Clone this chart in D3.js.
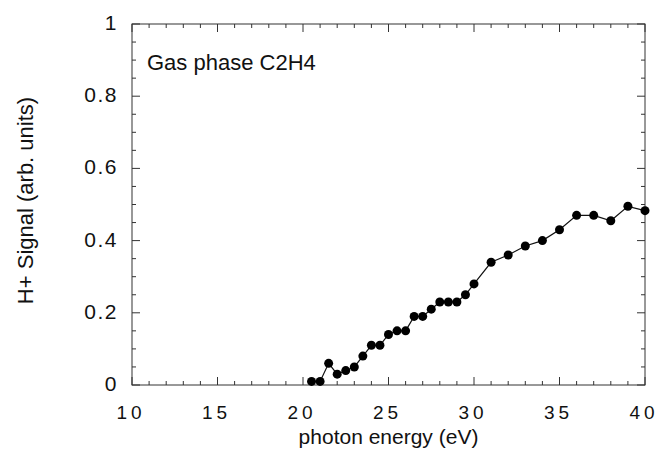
<!DOCTYPE html>
<html>
<head>
<meta charset="utf-8">
<script src="https://cdn.jsdelivr.net/npm/d3@7"></script>
<style>
  body { margin: 0; background: #fff; }
  text { font-family: "Liberation Sans", Arial, sans-serif; fill: #111; }
</style>
</head>
<body>
<div id="chart"></div>
<script>
// photon energy (eV) and H+ signal
var energy = [20.5, 21, 21.5, 22, 22.5, 23, 23.5, 24, 24.5, 25, 25.5, 26, 26.5, 27, 27.5, 28, 28.5, 29, 29.5, 30, 31, 32, 33, 34, 35, 36, 37, 38, 39, 40];
var signal = [0.01, 0.01, 0.06, 0.03, 0.04, 0.05, 0.08, 0.11, 0.11, 0.14, 0.15, 0.15, 0.19, 0.19, 0.21, 0.23, 0.23, 0.23, 0.25, 0.28, 0.34, 0.36, 0.385, 0.40, 0.43, 0.47, 0.47, 0.455, 0.495, 0.483];
var xTicks = [10, 15, 20, 25, 30, 35, 40];
var yTicks = [0, 0.2, 0.4, 0.6, 0.8, 1];
var yTickLabels = ["0", "0.2", "0.4", "0.6", "0.8", "1"];

var width = 661, height = 449;
var margin = {left: 132, right: 16, top: 24, bottom: 64};

var svg = d3.select("#chart").append("svg")
    .attr("width", width)
    .attr("height", height);

var x = d3.scaleLinear().domain([10, 40]).range([margin.left, width - margin.right]);
var y = d3.scaleLinear().domain([0, 1]).range([height - margin.bottom, margin.top]);

var frameColor = "#333";

// minor/major ticks, drawn inside the frame on all four sides
var xMinor = d3.range(10, 40.01, 1);
var yMinor = d3.range(0, 1.001, 0.05);

function isMajorX(v) { return Math.abs(v % 5) < 1e-6; }
function isMajorY(v) { var r = Math.round(v * 100) % 20; return r === 0; }

var ticks = svg.append("g").attr("stroke", frameColor).attr("stroke-width", 1);

xMinor.forEach(function(v) {
    var len = isMajorX(v) ? 8 : 4;
    ticks.append("line")
        .attr("x1", x(v)).attr("x2", x(v))
        .attr("y1", y(0)).attr("y2", y(0) - len);
    ticks.append("line")
        .attr("x1", x(v)).attr("x2", x(v))
        .attr("y1", y(1)).attr("y2", y(1) + len);
});

yMinor.forEach(function(v) {
    var len = isMajorY(v) ? 8 : 4;
    ticks.append("line")
        .attr("x1", x(10)).attr("x2", x(10) + len)
        .attr("y1", y(v)).attr("y2", y(v));
    ticks.append("line")
        .attr("x1", x(40)).attr("x2", x(40) - len)
        .attr("y1", y(v)).attr("y2", y(v));
});

svg.append("rect")
    .attr("x", x(10))
    .attr("y", y(1))
    .attr("width", x(40) - x(10))
    .attr("height", y(0) - y(1))
    .style("fill", "none")
    .style("stroke", frameColor)
    .style("stroke-width", 1);

// tick labels
svg.append("g").selectAll("text")
    .data(xTicks)
    .enter().append("text")
    .attr("x", function(d) { return x(d) - 1; })
    .attr("y", y(0) + 34)
    .attr("text-anchor", "middle")
    .style("font-size", "19px")
    .style("letter-spacing", "4px")
    .text(function(d) { return d; });

svg.append("g").selectAll("text")
    .data(yTicks)
    .enter().append("text")
    .attr("x", x(10) - 14)
    .attr("y", function(d) { return y(d) + 6; })
    .attr("text-anchor", "end")
    .style("font-size", "21px")
    .style("letter-spacing", "1.5px")
    .text(function(d, i) { return yTickLabels[i]; });

// axis titles
svg.append("text")
    .attr("x", (x(10) + x(40)) / 2)
    .attr("y", height - 5)
    .attr("text-anchor", "middle")
    .style("font-size", "21px")
    .text("photon energy (eV)");

svg.append("text")
    .attr("transform", "translate(33," + ((y(0) + y(1)) / 2 - 4) + ") rotate(-90)")
    .attr("text-anchor", "middle")
    .style("font-size", "22px")
    .text("H+ Signal (arb. units)");

svg.append("text")
    .attr("x", x(10) + 15)
    .attr("y", y(1) + 46)
    .style("font-size", "22px")
    .text("Gas phase C2H4");

// data line and markers
var pts = energy.map(function(e, i) { return [e, signal[i]]; });

svg.append("path")
    .datum(pts)
    .attr("d", d3.line()
        .x(function(d) { return x(d[0]); })
        .y(function(d) { return y(d[1]); }))
    .style("fill", "none")
    .style("stroke", "#111")
    .style("stroke-width", 1.2);

svg.append("g").selectAll("circle")
    .data(pts)
    .enter().append("circle")
    .attr("cx", function(d) { return x(d[0]); })
    .attr("cy", function(d) { return y(d[1]); })
    .attr("r", 4.5)
    .style("fill", "#000");
</script>
</body>
</html>
